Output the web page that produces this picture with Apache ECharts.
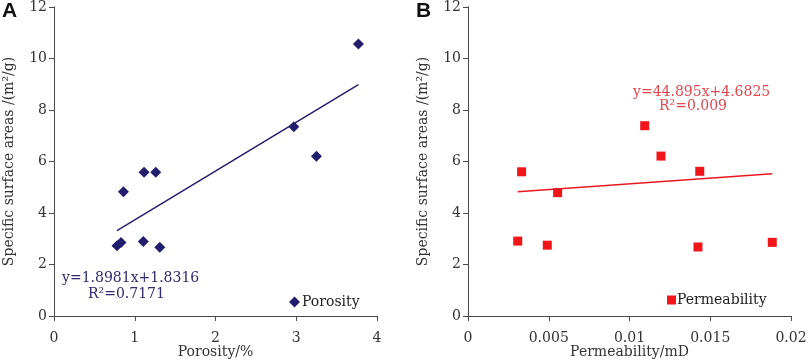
<!DOCTYPE html>
<html>
<head>
<meta charset="utf-8">
<script src="https://cdn.jsdelivr.net/npm/echarts@6/dist/echarts.min.js"></script>
<style>html,body{margin:0;padding:0;background:#fff}#c{width:809px;height:363px}</style>
</head>
<body>
<div id="c"></div>
<script>
// Panel A: porosity (%) vs specific surface area (m2/g)
const porosityX = [3.77, 2.97, 3.25, 1.115, 1.26, 0.86, 1.106, 1.31, 0.78, 0.83];
const porosityY = [10.56, 7.35, 6.2, 5.58, 5.58, 4.83, 2.89, 2.67, 2.73, 2.85];
const porosityFit = { slope: 1.8981, intercept: 1.8316, r2: '0.7171' };
// Panel B: permeability (mD) vs specific surface area (m2/g)
const permX = [0.00332, 0.00555, 0.00308, 0.00491, 0.01094, 0.01195, 0.01435, 0.01424, 0.01884];
const permY = [5.60, 4.79, 2.91, 2.75, 7.39, 6.21, 5.62, 2.68, 2.86];
const permFit = { slope: 44.895, intercept: 4.6825, r2: '0.009' };
const yTicks = [0, 2, 4, 6, 8, 10, 12];
const xTicksA = [0, 1, 2, 3, 4];
const xTicksB = [0, 0.005, 0.01, 0.015, 0.02];

const navy = '#231d6e';
const red = '#f0161a';
const redText = '#e0484e';
const axisCol = '#4a4a4a';
const font = "'DejaVu Serif','Liberation Serif',serif";
const fs = 14;

function fitLine(xs, fit) {
  const lo = Math.min(...xs), hi = Math.max(...xs);
  return [[lo, fit.slope * lo + fit.intercept], [hi, fit.slope * hi + fit.intercept]];
}
function xAxisDef(grid, ticks, name) {
  return {
    gridIndex: grid, type: 'value', min: ticks[0], max: ticks[ticks.length - 1],
    interval: ticks[1] - ticks[0], name: name, nameLocation: 'middle', nameGap: 29,
    nameMoveOverlap: false,
    nameTextStyle: { fontFamily: font, fontSize: fs, color: '#333' },
    axisLine: { onZero: false, lineStyle: { color: axisCol, width: 1 } },
    axisTick: { show: true, length: 5, lineStyle: { color: axisCol } },
    axisLabel: { fontFamily: font, fontSize: fs, color: '#333', margin: 15 },
    splitLine: { show: false }
  };
}
function yAxisDef(grid) {
  return {
    gridIndex: grid, type: 'value', min: yTicks[0], max: yTicks[yTicks.length - 1], interval: yTicks[1] - yTicks[0],
    name: 'Specific surface areas /(m²/g)', nameLocation: 'middle', nameGap: 38,
    nameMoveOverlap: false,
    nameTextStyle: { fontFamily: font, fontSize: fs, color: '#333' },
    axisLine: { show: true, onZero: false, lineStyle: { color: axisCol, width: 1 } },
    axisTick: { show: true, length: 5, lineStyle: { color: axisCol } },
    axisLabel: { fontFamily: font, fontSize: fs, color: '#333', margin: 7 },
    splitLine: { show: false }
  };
}
function rightBorder(grid) {
  return {
    gridIndex: grid, type: 'value', min: 0, max: 12, interval: 2, position: 'right',
    axisLine: { show: true, lineStyle: { color: axisCol, width: 1 } },
    axisTick: { show: false }, axisLabel: { show: false }, splitLine: { show: false }
  };
}

const chart = echarts.init(document.getElementById('c'), null, { renderer: 'canvas' });
chart.setOption({
  animation: false,
  backgroundColor: '#fff',
  grid: [
    { left: 54, right: 432, top: 7, bottom: 47, containLabel: false, outerBoundsMode: 'none' },
    { left: 468, right: 18, top: 7, bottom: 47, containLabel: false, outerBoundsMode: 'none' }
  ],
  xAxis: [xAxisDef(0, xTicksA, 'Porosity/%'), xAxisDef(1, xTicksB, 'Permeability/mD')],
  yAxis: [yAxisDef(0), yAxisDef(1), rightBorder(0), rightBorder(1)],
  legend: [
    { data: ['Porosity'], left: 284, top: 290, itemWidth: 11, itemHeight: 11,
      textStyle: { fontFamily: font, fontSize: fs, color: '#222', padding: [0, 0, 0, -3] } },
    { data: ['Permeability'], left: 662, top: 288, itemWidth: 9, itemHeight: 9,
      textStyle: { fontFamily: font, fontSize: fs, color: '#222', padding: [0, 0, 0, -4] } }
  ],
  series: [
    { name: 'Porosity', type: 'scatter', xAxisIndex: 0, yAxisIndex: 0, symbol: 'diamond', symbolSize: 11,
      itemStyle: { color: navy, opacity: 1 }, data: porosityX.map((x, i) => [x, porosityY[i]]) },
    { name: 'PorosityFit', type: 'line', xAxisIndex: 0, yAxisIndex: 0, symbol: 'none',
      lineStyle: { color: navy, width: 1.5 }, data: fitLine(porosityX, porosityFit) },
    { name: 'Permeability', type: 'scatter', xAxisIndex: 1, yAxisIndex: 1, symbol: 'rect', symbolSize: 9,
      itemStyle: { color: red, opacity: 1 }, data: permX.map((x, i) => [x, permY[i]]) },
    { name: 'PermFit', type: 'line', xAxisIndex: 1, yAxisIndex: 1, symbol: 'none',
      lineStyle: { color: '#e8191e', width: 1.5 }, data: fitLine(permX, permFit) }
  ],
  graphic: [
    { type: 'text', left: 2, top: 1, style: { text: 'A', font: 'bold 21px "Liberation Sans", Arial, sans-serif', fill: '#111' } },
    { type: 'text', left: 416, top: 1, style: { text: 'B', font: 'bold 21px "Liberation Sans", Arial, sans-serif', fill: '#111' } },
    { type: 'text', left: 62, top: 271, style: { text: 'y=' + porosityFit.slope + 'x+' + porosityFit.intercept, font: fs + 'px ' + font, fill: '#2e2b6e' } },
    { type: 'text', left: 88, top: 287, style: { text: 'R²=' + porosityFit.r2, font: fs + 'px ' + font, fill: '#2e2b6e' } },
    { type: 'text', left: 633, top: 85, style: { text: 'y=' + permFit.slope + 'x+' + permFit.intercept, font: fs + 'px ' + font, fill: redText } },
    { type: 'text', left: 659, top: 99, style: { text: 'R²=' + permFit.r2, font: fs + 'px ' + font, fill: redText } }
  ]
});
</script>
</body>
</html>
